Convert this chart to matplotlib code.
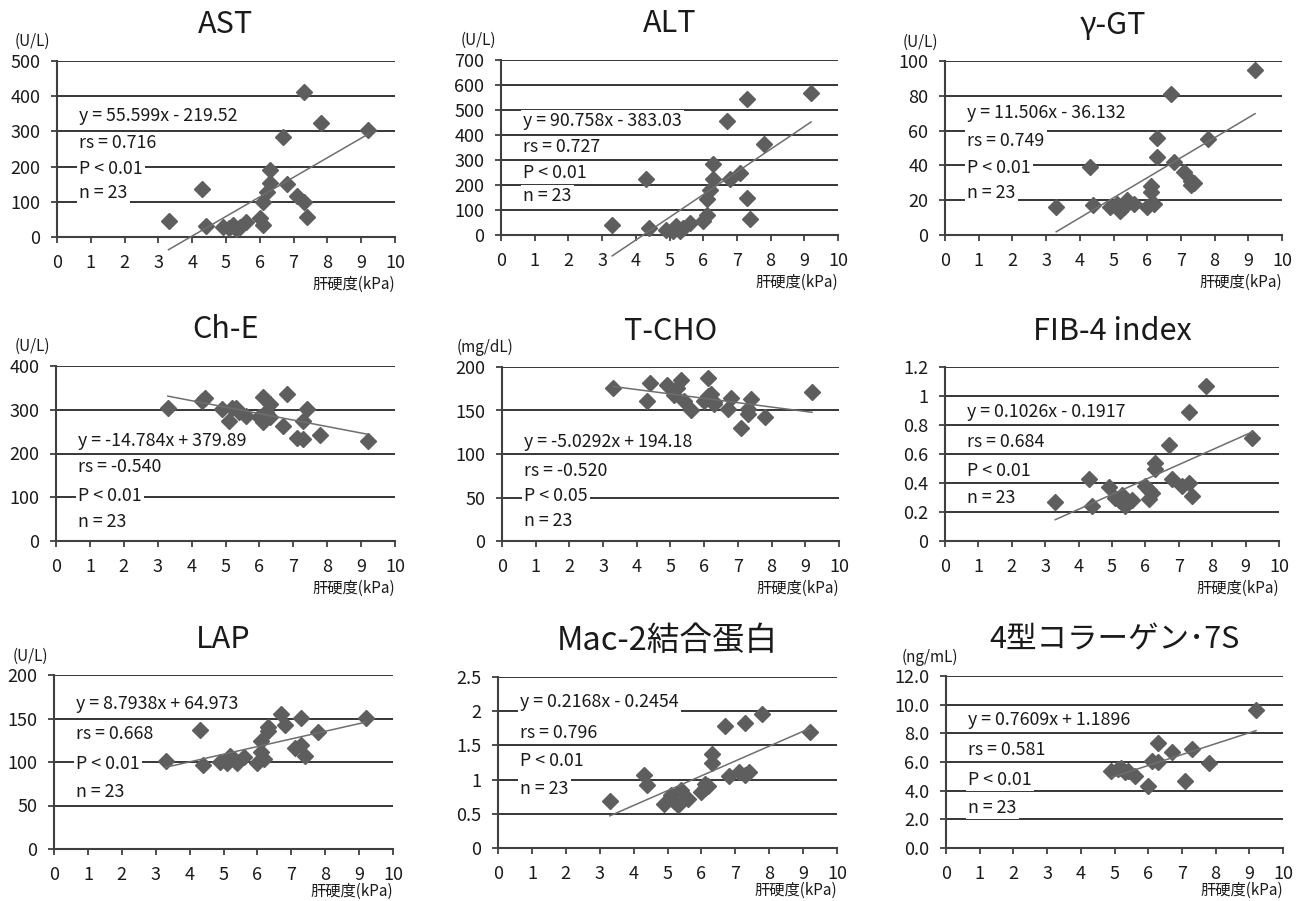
import numpy as np
import matplotlib
matplotlib.use("Agg")
import matplotlib.pyplot as plt
from matplotlib.ticker import FuncFormatter

plt.rcParams['font.family'] = ['Noto Sans CJK JP', 'DejaVu Sans']

# liver stiffness (kPa), shared by all panels
stiffness = [3.3, 4.3, 4.4, 4.9, 5.1, 5.2, 5.3, 5.4, 5.6, 6.0, 6.1, 6.1,
             6.2, 6.3, 6.3, 6.7, 6.8, 7.1, 7.3, 7.3, 7.4, 7.8, 9.2]

ast = [46, 135, 32, 27, 25, 34, 22, 29, 43, 55, 34, 100,
       129, 152, 190, 285, 150, 116, 413, 100, 58, 323, 304]
alt = [41, 225, 28, 21, 15, 35, 15, 28, 50, 55, 80, 145,
       180, 224, 283, 456, 224, 248, 543, 150, 64, 363, 570]
ggt = [16, 39, 17, 16, 18, 14, 16, 20, 18, 16, 28, 25,
       18, 56, 45, 81, 42, 36, 29, 31, 30, 55, 95]
che = [305, 320, 326, 302, 274, 303, 305, 295, 286, 284, 330, 272,
       295, 314, 284, 263, 335, 236, 232, 274, 301, 243, 229]
tcho = [176, 161, 182, 179, 168, 176, 185, 161, 150, 161, 187, 167,
        169, 160, 158, 152, 164, 130, 146, 152, 163, 143, 171]
fib4 = [0.27, 0.43, 0.24, 0.37, 0.30, 0.28, 0.32, 0.24, 0.28, 0.38, 0.29, 0.35,
        0.33, 0.54, 0.50, 0.66, 0.43, 0.38, 0.89, 0.40, 0.31, 1.07, 0.71]
lap = [101, 137, 97, 100, 99, 107, 103, 99, 106, 99, 124, 111,
       104, 136, 140, 155, 143, 116, 151, 120, 107, 134, 151]
mac2 = [0.68, 1.07, 0.92, 0.65, 0.77, 0.68, 0.63, 0.85, 0.71, 0.82, 0.94, 0.87,
        0.90, 1.24, 1.37, 1.79, 1.05, 1.11, 1.83, 1.07, 1.11, 1.96, 1.69]
col4 = [np.nan, np.nan, np.nan, 5.4, 5.5, 5.6, 5.3, 5.4, 5.0, 4.3, 6.1, np.nan,
        np.nan, 7.3, 6.0, 6.7, np.nan, 4.7, 6.9, np.nan, np.nan, 5.9, 9.6]

titles = ['AST', 'ALT', 'γ-GT', 'Ch-E', 'T-CHO', 'FIB-4 index',
          'LAP', 'Mac-2結合蛋白', '4型コラーゲン･7S']
title_size = [22, 22, 22, 22, 22, 22, 22, 23.5, 22]
units = ['(U/L)', '(U/L)', '(U/L)', '(U/L)', '(mg/dL)', '',
         '(U/L)', '', '(ng/mL)']
slopes = [55.599, 90.758, 11.506, -14.784, -5.0292, 0.1026, 8.7938, 0.2168, 0.7609]
intercepts = [-219.52, -383.03, -36.132, 379.89, 194.18, -0.1917, 64.973, -0.2454, 1.1896]
rs_values = [0.716, 0.727, 0.749, -0.540, -0.520, 0.684, 0.668, 0.796, 0.581]
p_labels = ['P < 0.01', 'P < 0.01', 'P < 0.01', 'P < 0.01', 'P < 0.05',
            'P < 0.01', 'P < 0.01', 'P < 0.01', 'P < 0.01']
y_max = [500, 700, 100, 400, 200, 1.2, 200, 2.5, 12]
y_step = [100, 100, 20, 100, 50, 0.2, 50, 0.5, 2]
series = [ast, alt, ggt, che, tcho, fib4, lap, mac2, col4]

# layout (pixels: left, top, right, bottom)
boxes = [(57, 61, 395, 237), (501, 60, 838, 235), (945, 61, 1282, 235),
         (56, 366, 395, 541), (502, 367, 839, 541), (945, 367, 1279, 541),
         (54, 675, 393, 849), (498, 677, 837, 848), (946, 676, 1283, 848)]
text_y = [(0.688, 0.534, 0.386, 0.25), (0.651, 0.503, 0.354, 0.223),
          (0.701, 0.54, 0.385, 0.241), (0.571, 0.423, 0.257, 0.109),
          (0.571, 0.40, 0.257, 0.114), (0.741, 0.569, 0.402, 0.247),
          (0.833, 0.66, 0.489, 0.328), (0.854, 0.673, 0.509, 0.345),
          (0.744, 0.57, 0.395, 0.233)]
unit_x = [-0.074, -0.068, -0.074, -0.071, -0.05, 0, -0.07, 0, -0.047]
xlabel_drop = [47, 47, 47, 47, 47, 47, 42, 42, 42]  # pixels below the axis

W, H = 1306, 901
fig = plt.figure(figsize=(W / 100, H / 100), dpi=100)
txt = '#1a1a1a'
x = np.array(stiffness)

for i in range(9):
    l, t, r, b = boxes[i]
    ax = fig.add_axes([l / W, 1 - b / H, (r - l) / W, (b - t) / H])
    y = np.array(series[i], dtype=float)
    ok = ~np.isnan(y)

    ax.set_xlim(0, 10)
    ax.set_ylim(0, y_max[i])
    ax.set_xticks(range(0, 11))
    ax.set_yticks(np.arange(0, y_max[i] + y_step[i] / 2, y_step[i]))
    if i == 8:
        ax.yaxis.set_major_formatter(FuncFormatter(lambda v, p: '%.1f' % v))
    else:
        ax.yaxis.set_major_formatter(FuncFormatter(lambda v, p: '%g' % round(v, 2)))

    ax.set_axisbelow(True)
    ax.yaxis.grid(True, color='#262626', linewidth=1.3)
    for s in ['top', 'right']:
        ax.spines[s].set_visible(False)
    for s in ['left', 'bottom']:
        ax.spines[s].set_color('#404040')
        ax.spines[s].set_linewidth(1.5)
    ax.tick_params(axis='both', direction='out', length=4, width=1.3, color='#404040',
                   labelsize=13, labelcolor=txt)
    ax.tick_params(axis='x', pad=8)
    ax.tick_params(axis='y', pad=8)

    ax.plot(x[ok], y[ok], 'D', color='#5e5e5e', markersize=7.8, zorder=3, clip_on=False)

    xs = np.array([x[ok].min(), x[ok].max()])
    ax.plot(xs, slopes[i] * xs + intercepts[i], color='#6e6e6e', linewidth=1.1,
            zorder=4, clip_on=False)

    sign = '+' if intercepts[i] >= 0 else '-'
    lines = ['y = %sx %s %s' % (slopes[i], sign, abs(intercepts[i])),
             'rs = %.3f' % rs_values[i], p_labels[i], 'n = 23']
    for k in range(4):
        ax.text(0.066, text_y[i][k], lines[k], transform=ax.transAxes, ha='left',
                va='center', fontsize=12.8, color=txt, zorder=5,
                bbox=dict(facecolor='white', edgecolor='none', pad=1.5))

    ax.text(0.5, 1.0 + 36 / (b - t), titles[i], transform=ax.transAxes, ha='center',
            va='center', fontsize=title_size[i], color=txt)
    if units[i]:
        ax.text(unit_x[i], 1.11, units[i], transform=ax.transAxes, ha='center',
                va='center', fontsize=11, color=txt)
    ax.text(1.0, -xlabel_drop[i] / (b - t), '肝硬度(kPa)', transform=ax.transAxes,
            ha='right', va='center', fontsize=11, color=txt)

fig.savefig('out.png', dpi=100)
